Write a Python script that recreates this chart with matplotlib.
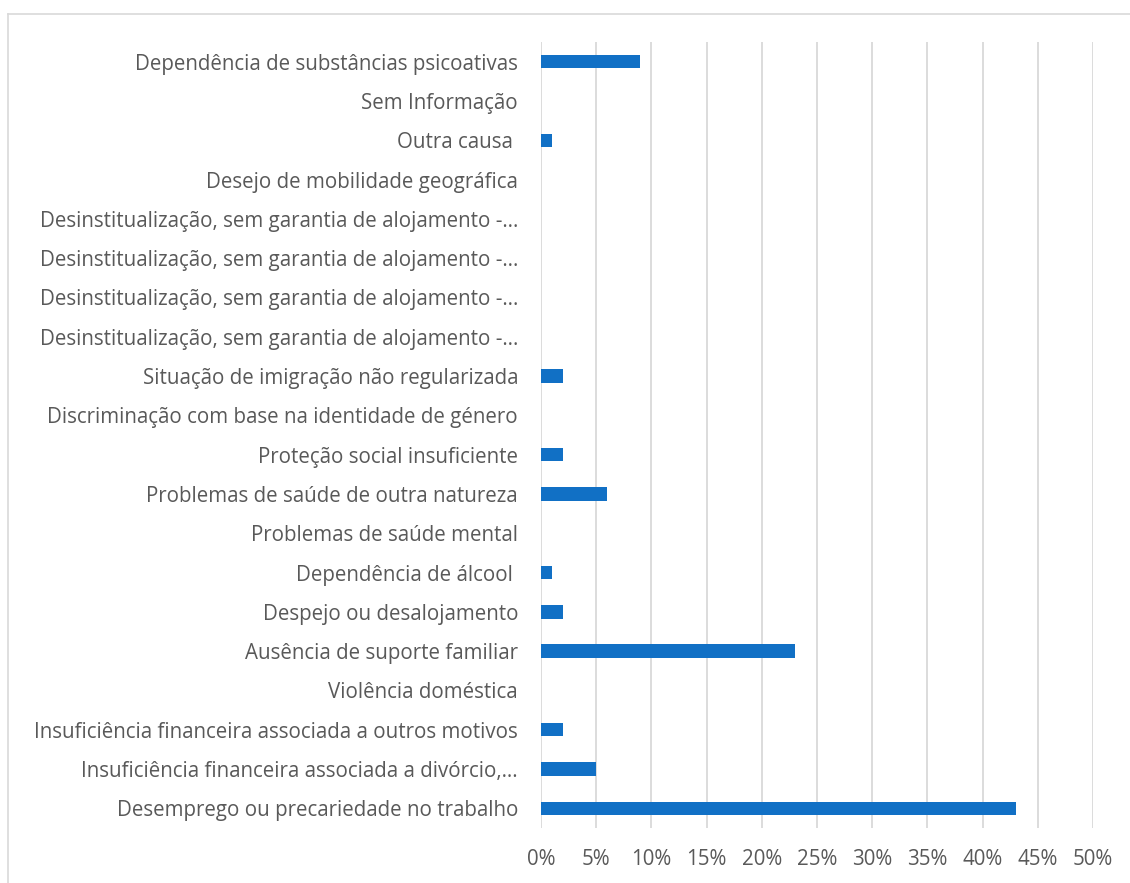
import matplotlib.pyplot as plt
from matplotlib.ticker import PercentFormatter
from matplotlib.lines import Line2D

# Categories listed bottom to top
categories = [
    "Desemprego ou precariedade no trabalho",
    "Insuficiência financeira associada a divórcio,…",
    "Insuficiência financeira associada a outros motivos",
    "Violência doméstica",
    "Ausência de suporte familiar",
    "Despejo ou desalojamento",
    "Dependência de álcool ",
    "Problemas de saúde mental",
    "Problemas de saúde de outra natureza",
    "Proteção social insuficiente",
    "Discriminação com base na identidade de género",
    "Situação de imigração não regularizada",
    "Desinstitualização, sem garantia de alojamento -…",
    "Desinstitualização, sem garantia de alojamento -…",
    "Desinstitualização, sem garantia de alojamento -…",
    "Desinstitualização, sem garantia de alojamento -…",
    "Desejo de mobilidade geográfica",
    "Outra causa ",
    "Sem Informação",
    "Dependência de substâncias psicoativas",
]
values = [0.43, 0.05, 0.02, 0.0, 0.23, 0.02, 0.01, 0.0, 0.06, 0.02,
          0.0, 0.02, 0.0, 0.0, 0.0, 0.0, 0.0, 0.01, 0.0, 0.09]
x_ticks = [0, 0.05, 0.10, 0.15, 0.20, 0.25, 0.30, 0.35, 0.40, 0.45, 0.50]

plt.rcParams["font.family"] = ["Open Sans", "DejaVu Sans"]
text_color = "#595959"
grid_color = "#d9d9d9"

fig = plt.figure(figsize=(11.3, 8.83), dpi=100)
ax = fig.add_axes([541 / 1130, 55 / 883, 552 / 1130, 786 / 883])

ypos = range(len(categories))
ax.barh(ypos, values, height=0.34, color="#1170c5", linewidth=0, zorder=3)

ax.set_xlim(0, 0.5)
ax.set_ylim(-0.5, len(categories) - 0.5)
ax.set_xticks(x_ticks)
ax.xaxis.set_major_formatter(PercentFormatter(1.0, decimals=0))
ax.set_yticks(list(ypos))
ax.set_yticklabels(categories)

ax.grid(axis="x", color=grid_color, linewidth=1.3, zorder=0)
for s in ax.spines.values():
    s.set_visible(False)
ax.tick_params(axis="both", length=0, colors=text_color, labelsize=14.8)
ax.tick_params(axis="y", pad=16.5)
ax.tick_params(axis="x", pad=15)

# chart area border (top and left visible in the crop)
fig.add_artist(Line2D([8 / 1130, 8 / 1130], [0, 1 - 14 / 883],
                      color=grid_color, linewidth=1.2))
fig.add_artist(Line2D([8 / 1130, 1], [1 - 14 / 883, 1 - 14 / 883],
                      color=grid_color, linewidth=1.2))

fig.savefig("out.png", dpi=100, facecolor="white")
